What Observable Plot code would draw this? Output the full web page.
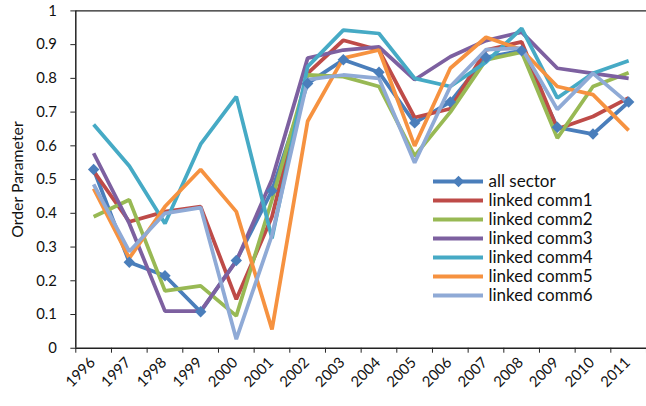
<!DOCTYPE html>
<html>
<head>
<meta charset="utf-8">
<script src="https://cdn.jsdelivr.net/npm/d3@7"></script>
<script src="https://cdn.jsdelivr.net/npm/@observablehq/plot@0.6"></script>
<style>
  html, body { margin: 0; padding: 0; background: #fff; }
  #wrap { position: relative; width: 646px; height: 406px; overflow: hidden; }
  #legend { position: absolute; left: 433px; top: 161px; }
  svg { overflow: visible; }
</style>
</head>
<body>
<div id="wrap"><div id="chart"></div><div id="legend"></div></div>
<script>
const years = [1996,1997,1998,1999,2000,2001,2002,2003,2004,2005,2006,2007,2008,2009,2010,2011];
const seriesNames = ["all sector","linked comm1","linked comm2","linked comm3","linked comm4","linked comm5","linked comm6"];
const seriesColors = ["#4A7EBB","#BE4B48","#98B954","#7D60A0","#46AAC5","#F69240","#8FAAD6"];
const allSector = [0.53, 0.255, 0.215, 0.108, 0.26, 0.467, 0.785, 0.855, 0.818, 0.668, 0.73, 0.862, 0.882, 0.655, 0.635, 0.73];
const comm1 = [0.525, 0.375, 0.405, 0.42, 0.145, 0.39, 0.815, 0.913, 0.884, 0.684, 0.71, 0.884, 0.908, 0.65, 0.687, 0.742];
const comm2 = [0.39, 0.44, 0.17, 0.185, 0.096, 0.44, 0.81, 0.805, 0.776, 0.57, 0.70, 0.855, 0.878, 0.623, 0.776, 0.817];
const comm3 = [0.578, 0.37, 0.11, 0.11, 0.258, 0.50, 0.86, 0.884, 0.893, 0.796, 0.864, 0.912, 0.937, 0.83, 0.815, 0.80];
const comm4 = [0.663, 0.54, 0.37, 0.605, 0.746, 0.326, 0.835, 0.943, 0.933, 0.80, 0.776, 0.848, 0.948, 0.742, 0.815, 0.852];
const comm5 = [0.473, 0.267, 0.42, 0.53, 0.405, 0.056, 0.673, 0.86, 0.884, 0.60, 0.83, 0.922, 0.885, 0.776, 0.752, 0.646];
const comm6 = [0.486, 0.287, 0.40, 0.417, 0.027, 0.335, 0.796, 0.81, 0.80, 0.55, 0.776, 0.885, 0.89, 0.708, 0.815, 0.725];
const yTicks = [0,0.1,0.2,0.3,0.4,0.5,0.6,0.7,0.8,0.9,1];
const yLabels = ["0","0.1","0.2","0.3","0.4","0.5","0.6","0.7","0.8","0.9","1"];

const seriesValues = [allSector, comm1, comm2, comm3, comm4, comm5, comm6];
const rows = [];
seriesNames.forEach((name, si) => {
  seriesValues[si].forEach((v, i) => rows.push({series: name, year: years[i], value: v}));
});
const boundaries = years.map(y => y - 0.5).concat([years[years.length - 1] + 0.5]);
const font = "Lato, 'Open Sans', sans-serif";
const color = {domain: seriesNames, range: seriesColors};

const chart = Plot.plot({
  width: 652,
  height: 406,
  marginLeft: 76,
  marginRight: 0,
  marginTop: 10.5,
  marginBottom: 55,
  style: {fontFamily: font, fontSize: "15px", color: "#111", background: "white"},
  x: {type: "linear", domain: [1995.5, 2011.5]},
  y: {domain: [0, 1]},
  color,
  marks: [
    Plot.ruleY([1], {stroke: "#222", strokeWidth: 1.2}),
    Plot.axisY({ticks: yTicks, tickFormat: (d, i) => yLabels[i], tickSize: 5, tickPadding: 14, fontSize: 15, label: null, stroke: "#222"}),
    Plot.axisX({ticks: boundaries, tickFormat: () => "", tickSize: 5, label: null, stroke: "#222"}),
    Plot.axisX({ticks: years, tickFormat: d => String(d), tickSize: 0, tickPadding: 12, tickRotate: -45, fontSize: 15, label: null, textAnchor: "end", dx: -1}),
    Plot.ruleX([1995.5], {stroke: "#222", strokeWidth: 1.5}),
    Plot.ruleY([0], {stroke: "#222", strokeWidth: 1.5}),
    Plot.line(rows, {x: "year", y: "value", z: "series", stroke: "series", strokeWidth: 3.8, strokeLinejoin: "miter", strokeLinecap: "butt"}),
    Plot.dot(rows.filter(d => d.series === "all sector"), {x: "year", y: "value", symbol: "diamond2", r: 5.2, fill: seriesColors[0], stroke: "none"}),
    Plot.text(["Order Parameter"], {frameAnchor: "left", textAnchor: "middle", dx: -58, rotate: -90, fontSize: 16, fill: "#111"})
  ]
});
document.getElementById("chart").appendChild(chart);

const legend = Plot.plot({
  width: 210,
  height: 160,
  margin: 0,
  style: {fontFamily: font, fontSize: "17px", background: "transparent", color: "#111"},
  x: {domain: [0, 210], range: [0, 210], axis: null},
  y: {type: "point", domain: seriesNames, range: [10, 143.2], axis: null},
  color,
  marks: [
    Plot.ruleY(seriesNames, {y: d => d, x1: 0, x2: 50, stroke: d => d, strokeWidth: 3.8}),
    Plot.dot([seriesNames[0]], {y: d => d, x: 25, symbol: "diamond2", r: 5.2, fill: seriesColors[0]}),
    Plot.text(seriesNames, {y: d => d, x: 55, text: d => d, textAnchor: "start", fontSize: 17, fill: "#111"})
  ]
});
document.getElementById("legend").appendChild(legend);
</script>
</body>
</html>
